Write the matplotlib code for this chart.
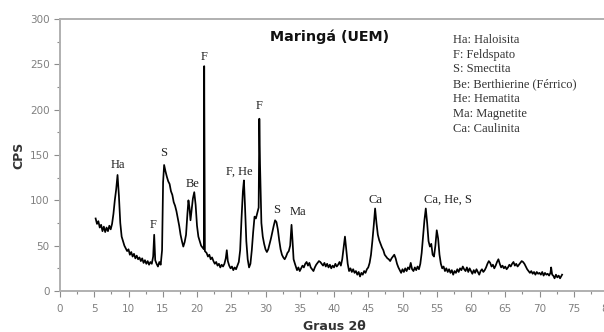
import matplotlib
matplotlib.use('Agg')
import matplotlib.pyplot as plt
from matplotlib.ticker import MultipleLocator

# XRD trace (2theta in degrees, counts per second)
two_theta = [
    5.2, 5.4, 5.6, 5.8, 6.0, 6.2, 6.4, 6.6, 6.8, 7.0, 7.2, 7.4, 7.6, 7.8, 8.0, 8.2, 8.4, 8.6, 8.8,
    9.0, 9.2, 9.4, 9.6, 9.8, 10.0, 10.2, 10.4, 10.6, 10.8, 11.0, 11.2, 11.4, 11.6, 11.8, 12.0,
    12.2, 12.4, 12.6, 12.8, 13.0, 13.2, 13.4, 13.6, 13.75, 13.9, 14.1, 14.3, 14.5, 14.7, 14.9,
    15.05, 15.2, 15.4, 15.6, 15.8, 16.0, 16.2, 16.4, 16.6, 16.8, 17.0, 17.2, 17.4, 17.6, 17.8,
    18.0, 18.2, 18.4, 18.6, 18.75, 18.9, 19.05, 19.2, 19.4, 19.6, 19.8, 20.0, 20.2, 20.4, 20.6,
    20.8, 21.0, 21.05, 21.15, 21.4, 21.6, 21.8, 22.0, 22.2, 22.4, 22.6, 22.8, 23.0, 23.2, 23.4,
    23.6, 23.8, 24.0, 24.2, 24.35, 24.5, 24.7, 24.9, 25.1, 25.3, 25.5, 25.7, 25.9, 26.1, 26.3,
    26.5, 26.7, 26.85, 27.0, 27.2, 27.4, 27.6, 27.8, 28.0, 28.2, 28.4, 28.6, 28.8, 29.0, 29.1,
    29.2, 29.4, 29.6, 29.8, 30.0, 30.2, 30.4, 30.6, 30.8, 31.0, 31.2, 31.4, 31.6, 31.8, 32.0,
    32.2, 32.4, 32.6, 32.8, 33.0, 33.2, 33.4, 33.6, 33.8, 33.95, 34.1, 34.3, 34.6, 34.8, 35.0,
    35.2, 35.4, 35.6, 35.8, 36.0, 36.2, 36.4, 36.6, 36.8, 37.0, 37.2, 37.4, 37.6, 37.8, 38.0,
    38.2, 38.4, 38.6, 38.8, 39.0, 39.2, 39.4, 39.6, 39.8, 40.0, 40.2, 40.4, 40.6, 40.8, 41.0,
    41.2, 41.4, 41.6, 41.8, 42.0, 42.2, 42.4, 42.6, 42.8, 43.0, 43.2, 43.4, 43.6, 43.8, 44.0,
    44.2, 44.4, 44.6, 44.8, 45.0, 45.2, 45.4, 45.6, 45.8, 46.0, 46.2, 46.4, 46.6, 46.8, 47.0,
    47.2, 47.4, 47.6, 47.8, 48.0, 48.2, 48.4, 48.6, 48.8, 49.0, 49.2, 49.4, 49.6, 49.8, 50.0,
    50.2, 50.4, 50.6, 50.8, 51.0, 51.2, 51.4, 51.6, 51.8, 52.0, 52.2, 52.4, 52.6, 52.8, 53.0,
    53.2, 53.4, 53.6, 53.8, 54.0, 54.2, 54.4, 54.6, 54.8, 55.0, 55.2, 55.4, 55.6, 55.8, 56.0,
    56.2, 56.4, 56.6, 56.8, 57.0, 57.2, 57.4, 57.6, 57.8, 58.0, 58.2, 58.4, 58.6, 58.8, 59.0,
    59.2, 59.4, 59.6, 59.8, 60.0, 60.2, 60.4, 60.6, 60.8, 61.0, 61.2, 61.4, 61.6, 61.8, 62.0,
    62.2, 62.4, 62.6, 62.8, 63.0, 63.2, 63.4, 63.6, 63.8, 64.0, 64.2, 64.4, 64.6, 64.8, 65.0,
    65.2, 65.4, 65.6, 65.8, 66.0, 66.2, 66.4, 66.6, 66.8, 67.0, 67.2, 67.4, 67.6, 67.8, 68.0,
    68.2, 68.4, 68.6, 68.8, 69.0, 69.2, 69.4, 69.6, 69.8, 70.0, 70.2, 70.4, 70.6, 70.8, 71.0,
    71.2, 71.4, 71.6, 71.7, 71.85, 72.0, 72.2, 72.4, 72.6, 72.8, 73.0, 73.3,
]
cps = [
    80, 74, 77, 70, 73, 66, 71, 65, 70, 66, 72, 68, 74, 85, 100, 112, 128, 105, 75,
    60, 55, 50, 47, 44, 46, 40, 43, 38, 41, 36, 39, 35, 37, 33, 36,
    31, 34, 30, 33, 29, 32, 30, 38, 62, 34, 30, 27, 32, 29, 45,
    120, 139, 132, 126, 121, 118, 110, 106, 98, 94, 88, 80, 72, 62, 55,
    49, 54, 62, 85, 100, 92, 78, 88, 102, 109, 95, 72, 60, 55, 50,
    48, 46, 248, 44, 42, 38, 40, 35, 37, 33, 30, 32, 28, 30, 26,
    29, 27, 30, 36, 45, 33, 28, 25, 27, 23, 26, 24, 28, 32, 45,
    80, 110, 122, 95, 55, 35, 26, 30, 45, 65, 82, 80, 86, 92, 190,
    140, 75, 60, 52, 46, 43, 46, 52, 58, 65, 72, 78, 76, 68, 56,
    46, 40, 37, 35, 38, 42, 44, 50, 73, 55, 35, 30, 23, 26, 22,
    25, 28, 26, 30, 32, 28, 31, 26, 24, 22, 26, 29, 31, 33, 32,
    30, 28, 31, 27, 30, 26, 29, 25, 28, 26, 30, 27, 29, 32, 28,
    35, 48, 60, 45, 30, 22, 25, 21, 24, 20, 22, 18, 21, 16, 20,
    18, 22, 20, 24, 26, 31, 40, 55, 72, 91, 75, 62, 56, 52, 48,
    45, 40, 38, 36, 35, 33, 36, 38, 40, 36, 30, 26, 23, 20, 24,
    21, 25, 22, 26, 24, 31, 24, 22, 26, 23, 27, 24, 30, 42, 60,
    78, 91, 75, 55, 49, 52, 40, 38, 50, 67, 58, 40, 30, 25, 27,
    22, 25, 21, 24, 20, 23, 18, 22, 20, 24, 21, 25, 23, 27, 24,
    22, 26, 21, 25, 22, 19, 23, 20, 24, 21, 18, 22, 24, 21, 23,
    26, 30, 33, 31, 27, 29, 25, 28, 32, 35, 30, 26, 28, 25, 27,
    24, 26, 29, 27, 30, 32, 28, 30, 27, 29, 31, 33, 32, 30, 27,
    24, 22, 20, 22, 19, 21, 18, 21, 19, 20, 18, 21, 17, 20, 18,
    19, 17, 20, 26, 18, 17, 14, 18, 15, 17, 14, 18,
]

# peak labels: text, 2theta, cps
peak_labels = ['Ha', 'F', 'S', 'Be', 'F', 'F, He', 'F', 'S', 'Ma', 'Ca', 'Ca, He, S']
peak_x = [8.5, 13.6, 15.1, 19.4, 21.0, 26.1, 29.1, 31.6, 34.8, 46.0, 56.6]
peak_y = [132, 66, 146, 111, 252, 125, 197, 83, 80, 94, 94]

legend_lines = ['Ha: Haloisita', 'F: Feldspato', 'S: Smectita',
                'Be: Berthierine (Férrico)', 'He: Hematita',
                'Ma: Magnetite', 'Ca: Caulinita']

grey = '#8c8c8c'

fig = plt.figure(figsize=(6.04, 3.32), dpi=100)
ax = fig.add_axes([60 / 604, 1 - 291 / 332, 548 / 604, 272 / 332])

ax.plot(two_theta, cps, color='black', lw=1.25)

ax.set_xlim(0, 80)
ax.set_ylim(0, 300)
ax.xaxis.set_major_locator(MultipleLocator(5))
ax.xaxis.set_minor_locator(MultipleLocator(2.5))
ax.yaxis.set_major_locator(MultipleLocator(50))
ax.yaxis.set_minor_locator(MultipleLocator(25))
ax.tick_params(which='both', direction='out', color=grey, labelcolor='#808080',
               labelsize=7.5, width=0.8)
ax.tick_params(which='major', length=4)
ax.tick_params(which='minor', length=2.5)
ax.tick_params(axis='x', pad=5)
for side in ['left', 'bottom', 'top', 'right']:
    ax.spines[side].set_color('#b0b0b0')
    ax.spines[side].set_linewidth(1.4)

ax.set_xlabel('Graus 2θ', fontsize=9, fontweight='bold', color='#333333', labelpad=5)
ax.set_ylabel('CPS', fontsize=9, fontweight='bold', color='#333333', labelpad=3)

for lab, x, y in zip(peak_labels, peak_x, peak_y):
    ax.text(x, y, lab, ha='center', va='bottom', fontsize=9,
            family='Liberation Serif', color='#222222')

ax.text(39.4, 280, 'Maringá (UEM)', ha='center', va='center', fontsize=10.3,
        fontweight='bold', color='#111111')

for i, line in enumerate(legend_lines):
    ax.text(57.3, 277 - i * 16.3, line, ha='left', va='center', fontsize=9,
            family='Liberation Serif', color='#333333')

fig.savefig('out.png', dpi=100)
